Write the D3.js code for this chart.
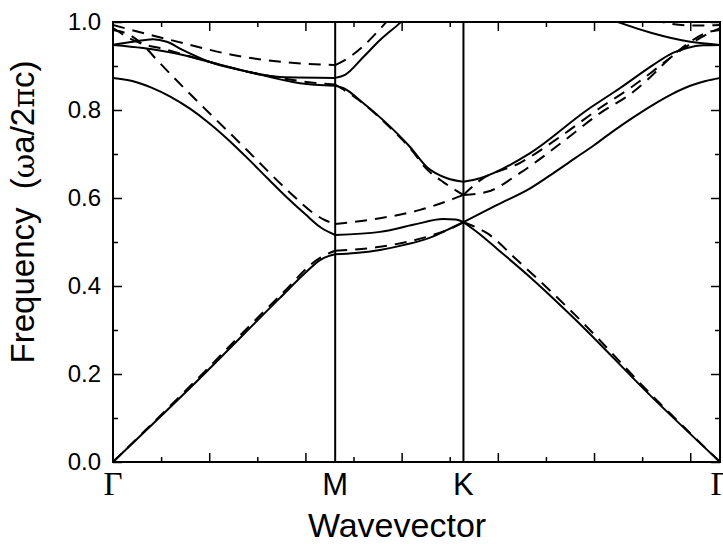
<!DOCTYPE html>
<html>
<head>
<meta charset="utf-8">
<script src="https://cdn.jsdelivr.net/npm/d3@7"></script>
<style>
html,body{margin:0;padding:0;background:#fff;}
svg{display:block;}
</style>
</head>
<body>
<svg id="chart" width="723" height="544"></svg>
<script>
// ---- symmetry points (k in units of 2π/a) ----
const kM = 1 / Math.sqrt(3);
const kK = kM + 1 / 3;
const kG2 = kK + 2 / 3;
const symLabels = ["Γ", "M", "K", "Γ"];
const symK = [0, kM, kK, kG2];
const yTicks = [0, 0.2, 0.4, 0.6, 0.8, 1.0];
const yMinor = [0.1, 0.3, 0.5, 0.7, 0.9];
const xTickStep = 0.125;

// ---- solid bands [k, f] ----
const solid1 = [[0,0],[0.2,0.168],[0.434,0.373],[0.5,0.43],[0.538,0.459],[0.56,0.468],[0.5774,0.472],
  [0.63,0.475],[0.694,0.482],[0.76,0.494],[0.824,0.51],[0.87,0.528],[0.9107,0.545],
  [0.95,0.52],[1.0,0.483],[1.084,0.42],[1.2,0.325],[1.40,0.148],[1.5774,0]];
const solid2 = [[0,0.873],[0.05,0.866],[0.1,0.851],[0.15,0.83],[0.2,0.803],[0.25,0.77],[0.3,0.732],[0.35,0.69],
  [0.4,0.646],[0.45,0.603],[0.5,0.563],[0.54,0.533],[0.5774,0.516],
  [0.694,0.523],[0.78,0.539],[0.858,0.552],[0.89,0.551],[0.9107,0.545],
  [0.95,0.563],[1.0,0.585],[1.084,0.622],[1.15,0.66],[1.2,0.69],[1.25,0.72],[1.3,0.752],[1.35,0.782],
  [1.4,0.81],[1.45,0.835],[1.5,0.855],[1.54,0.866],[1.5774,0.873]];
const solid3 = [[0,0.948],[0.078,0.941],[0.182,0.925],[0.252,0.909],[0.356,0.886],[0.486,0.861],[0.5774,0.855],
  [0.598,0.85],[0.65,0.816],[0.702,0.777],[0.772,0.716],[0.816,0.67],[0.868,0.645],[0.9107,0.637],
  [0.954,0.645],[1.084,0.702],[1.232,0.80],[1.318,0.85],[1.403,0.902],[1.455,0.93],[1.492,0.941],[1.533,0.947],[1.5774,0.948]];
const solid4 = [[0,0.948],[0.052,0.955],[0.104,0.961],[0.14,0.955],[0.182,0.936],[0.252,0.909],[0.33,0.891],[0.434,0.875],[0.5774,0.873],
  [0.603,0.88],[0.65,0.92],[0.694,0.959],[0.746,0.998],[0.824,1.066],[0.9107,1.14],
  [1.2,1.04],[1.318,0.998],[1.40,0.975],[1.5,0.955],[1.5774,0.948]];

// ---- dashed bands [k, f] ----
const dashed1 = [[0,0],[0.2,0.172],[0.434,0.378],[0.538,0.464],[0.56,0.474],[0.5774,0.48],
  [0.694,0.489],[0.824,0.514],[0.868,0.527],[0.9107,0.545],
  [0.972,0.52],[1.05,0.459],[1.2,0.335],[1.40,0.152],[1.5774,0]];
const dashed2 = [[0,0.982],[0.04,0.972],[0.08,0.946],[0.114,0.914],[0.348,0.709],[0.46,0.612],[0.52,0.566],[0.55,0.55],[0.5774,0.541],
  [0.694,0.554],[0.798,0.573],[0.884,0.598],[0.9107,0.607],
  [0.972,0.614],[1.058,0.657],[1.16,0.722],[1.266,0.793],[1.344,0.836],[1.388,0.868],[1.44,0.912],[1.5,0.955],[1.55,0.978],[1.5774,0.982]];
const dashed3 = [[0,0.986],[0.062,0.955],[0.14,0.937],[0.252,0.909],[0.35,0.887],[0.434,0.873],[0.52,0.862],[0.5774,0.858],
  [0.65,0.815],[0.702,0.775],[0.772,0.713],[0.816,0.665],[0.86,0.635],[0.9107,0.607],
  [0.954,0.64],[1.058,0.68],[1.16,0.738],[1.266,0.805],[1.344,0.85],[1.403,0.888],[1.45,0.92],[1.5,0.95],[1.55,0.975],[1.5774,0.986]];
const dashed4 = [[0,0.993],[0.182,0.952],[0.312,0.925],[0.442,0.909],[0.5774,0.902],
  [0.6,0.912],[0.65,0.945],[0.7,0.99],[0.746,1.035],[0.8,1.085],[0.9107,1.15],
  [1.3,1.03],[1.4,1.005],[1.5,0.992],[1.5774,0.993]];

const solidBands = [solid1, solid2, solid3, solid4];
const dashedBands = [dashed1, dashed2, dashed3, dashed4];

// ---- layout ----
const svg = d3.select("#chart");
const L = 113, R = 720, T = 22, B = 462;
const x = d3.scaleLinear().domain([0, kG2]).range([L, R]);
const y = d3.scaleLinear().domain([0, 1]).range([B, T]);

svg.append("defs").append("clipPath").attr("id", "plotclip")
  .append("rect").attr("x", L).attr("y", T).attr("width", R - L).attr("height", B - T);

const line = d3.line().x(d => x(d[0])).y(d => y(d[1])).curve(d3.curveMonotoneX);

function segments(band) {
  const bounds = [[0, kM], [kM, kK], [kK, kG2]];
  return bounds.map(([a, b]) => band.filter(p => p[0] >= a - 0.004 && p[0] <= b + 0.004));
}

const plot = svg.append("g").attr("clip-path", "url(#plotclip)");

dashedBands.forEach(b => segments(b).forEach(seg => {
  plot.append("path").attr("d", line(seg)).attr("fill", "none")
    .attr("stroke", "#000").attr("stroke-width", 2).attr("stroke-dasharray", "12,8");
}));
solidBands.forEach(b => segments(b).forEach(seg => {
  plot.append("path").attr("d", line(seg)).attr("fill", "none")
    .attr("stroke", "#000").attr("stroke-width", 2);
}));

// vertical lines at M and K
[kM, kK].forEach(k => {
  svg.append("line").attr("x1", x(k)).attr("x2", x(k)).attr("y1", T).attr("y2", B)
    .attr("stroke", "#000").attr("stroke-width", 2);
});

// x minor/major ticks (inward, bottom and top)
const xt = d3.range(xTickStep, kG2 - 0.01, xTickStep);
const xMajor = xt.filter((v, i) => i % 2 === 1);
const xMinorT = xt.filter((v, i) => i % 2 === 0);
const axStyle = g => { g.select(".domain").remove(); g.selectAll("line").attr("stroke", "#000").attr("stroke-width", 1.5); g.selectAll("text").remove(); };
svg.append("g").attr("transform", `translate(0,${B})`).call(d3.axisBottom(x).tickValues(xMajor).tickSize(-9)).call(axStyle);
svg.append("g").attr("transform", `translate(0,${B})`).call(d3.axisBottom(x).tickValues(xMinorT).tickSize(-5)).call(axStyle);
svg.append("g").attr("transform", `translate(0,${T})`).call(d3.axisTop(x).tickValues(xMajor).tickSize(-9)).call(axStyle);
svg.append("g").attr("transform", `translate(0,${T})`).call(d3.axisTop(x).tickValues(xMinorT).tickSize(-5)).call(axStyle);

// y ticks left and right
svg.append("g").attr("transform", `translate(${L},0)`).call(d3.axisLeft(y).tickValues(yTicks).tickSize(-9)).call(axStyle);
svg.append("g").attr("transform", `translate(${L},0)`).call(d3.axisLeft(y).tickValues(yMinor).tickSize(-5)).call(axStyle);
svg.append("g").attr("transform", `translate(${R},0)`).call(d3.axisRight(y).tickValues(yTicks).tickSize(-9)).call(axStyle);
svg.append("g").attr("transform", `translate(${R},0)`).call(d3.axisRight(y).tickValues(yMinor).tickSize(-5)).call(axStyle);

// y tick labels
svg.append("g").selectAll("text").data(yTicks).join("text")
  .attr("x", 101).attr("y", d => y(d)).attr("dy", "0.35em")
  .attr("text-anchor", "end")
  .style("font-family", "'Liberation Sans', Arial, sans-serif").style("font-size", "24px")
  .text(d3.format(".1f"));

// symmetry point labels
svg.append("g").selectAll("text").data(symK).join("text")
  .attr("x", d => x(d)).attr("y", 495)
  .attr("text-anchor", "middle")
  .style("font-family", (d, i) => symLabels[i] === "Γ" ? "'Liberation Serif', 'Times New Roman', serif" : "'Liberation Sans', Arial, sans-serif")
  .style("font-size", (d, i) => symLabels[i] === "Γ" ? "33px" : "31px")
  .text((d, i) => symLabels[i]);

// frame
svg.append("rect").attr("x", L).attr("y", T).attr("width", R - L).attr("height", B - T)
  .attr("fill", "none").attr("stroke", "#000").attr("stroke-width", 2);

// axis titles
svg.append("text").attr("x", 397).attr("y", 537).attr("text-anchor", "middle")
  .style("font-family", "'Liberation Sans', Arial, sans-serif").style("font-size", "34px")
  .text("Wavevector");

const yl = svg.append("text").attr("transform", "translate(34,212) rotate(-90)").attr("text-anchor", "middle")
  .style("font-family", "'Liberation Sans', Arial, sans-serif").style("font-size", "33px");
yl.append("tspan").text("Frequency\u00a0\u00a0(");
yl.append("tspan").style("font-family", "'DejaVu Serif', serif").style("font-size", "30px").text("ω");
yl.append("tspan").text("a/2");
yl.append("tspan").style("font-family", "'DejaVu Serif', serif").style("font-size", "30px").text("π");
yl.append("tspan").text("c)");
</script>
</body>
</html>
